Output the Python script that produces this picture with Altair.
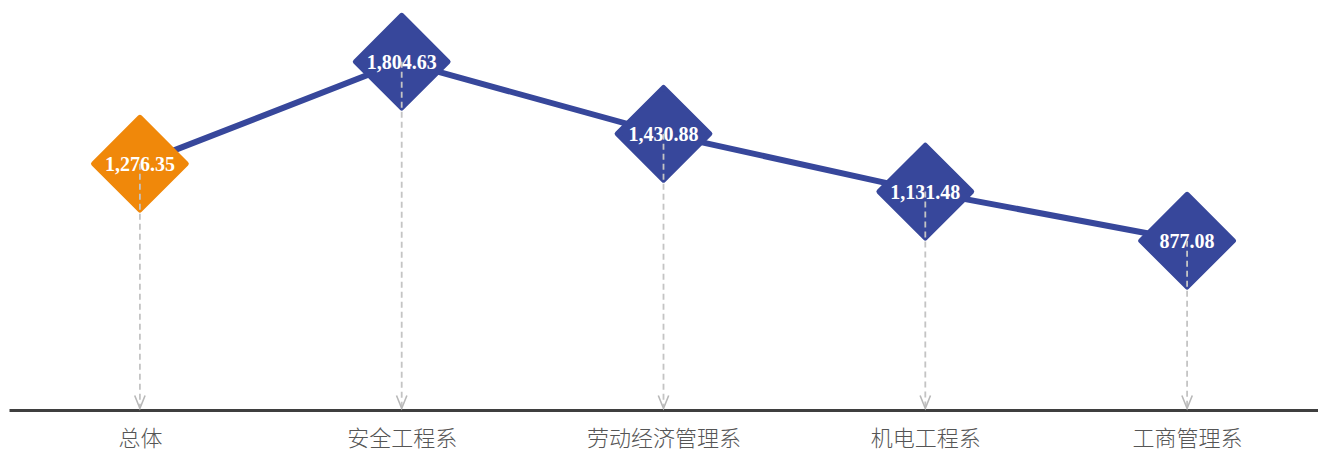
import altair as alt
import pandas as pd

categories = ["总体", "安全工程系", "劳动经济管理系", "机电工程系", "工商管理系"]
values = [1276.35, 1804.63, 1430.88, 1131.48, 877.08]
groups = ["总体", "系", "系", "系", "系"]
labels = ["1,276.35", "1,804.63", "1,430.88", "1,131.48", "877.08"]

df = pd.DataFrame({"cat": categories, "val": values, "grp": groups, "lbl": labels})

x = alt.X("cat:N", sort=categories,
          scale=alt.Scale(type="point", padding=0.5),
          axis=alt.Axis(title=None, ticks=False, grid=False, domain=True,
                        domainColor="#3f3f3f", domainWidth=3,
                        labelAngle=0, labelFont="Noto Sans CJK SC", labelFontWeight=300,
                        labelFontSize=22, labelColor="#555555", labelPadding=18))
y = alt.Y("val:Q", scale=alt.Scale(domain=[0, 2000], nice=False, zero=True),
          axis=None)

base = alt.Chart(df)

line = base.mark_line(color="#37479B", strokeWidth=6).encode(x=x, y=y)

diamonds = base.mark_point(shape="diamond", filled=True, size=8600, opacity=1,
                           strokeWidth=5, strokeJoin="round").encode(
    x=x, y=y,
    color=alt.Color("grp:N", scale=alt.Scale(domain=["总体", "系"],
                                             range=["#F0880A", "#37479B"]), legend=None),
    stroke=alt.Stroke("grp:N", scale=alt.Scale(domain=["总体", "系"],
                                               range=["#F0880A", "#37479B"]), legend=None),
)

text = base.mark_text(color="white", font="Liberation Serif", fontWeight="bold",
                      fontSize=20, baseline="middle", align="center", dy=1).encode(
    x=x, y=y, text="lbl:N")

rules = base.mark_rule(color="#c4c4c4", strokeWidth=1.8, strokeDash=[6, 4]).encode(
    x=x, y=y, y2=alt.Y2(datum=20))

arrows = base.mark_point(shape="M-0.8,-2L0,0L0.8,-2", size=169, filled=False,
                         color="#b8b8b8", strokeWidth=1.6, opacity=1).encode(
    x=x, y=alt.Y(datum=8, scale=alt.Scale(domain=[0, 2000], nice=False, zero=True)))

chart = alt.layer(line, diamonds, text, rules, arrows).properties(
    width=1309, height=386,
    autosize=alt.AutoSizeParams(type="none"),
    padding={"left": 1, "top": 16, "right": 0, "bottom": 44},
).configure_view(stroke=None).resolve_scale(y="shared")

chart.save("out.html", embed_options={"renderer": "svg", "actions": False})
